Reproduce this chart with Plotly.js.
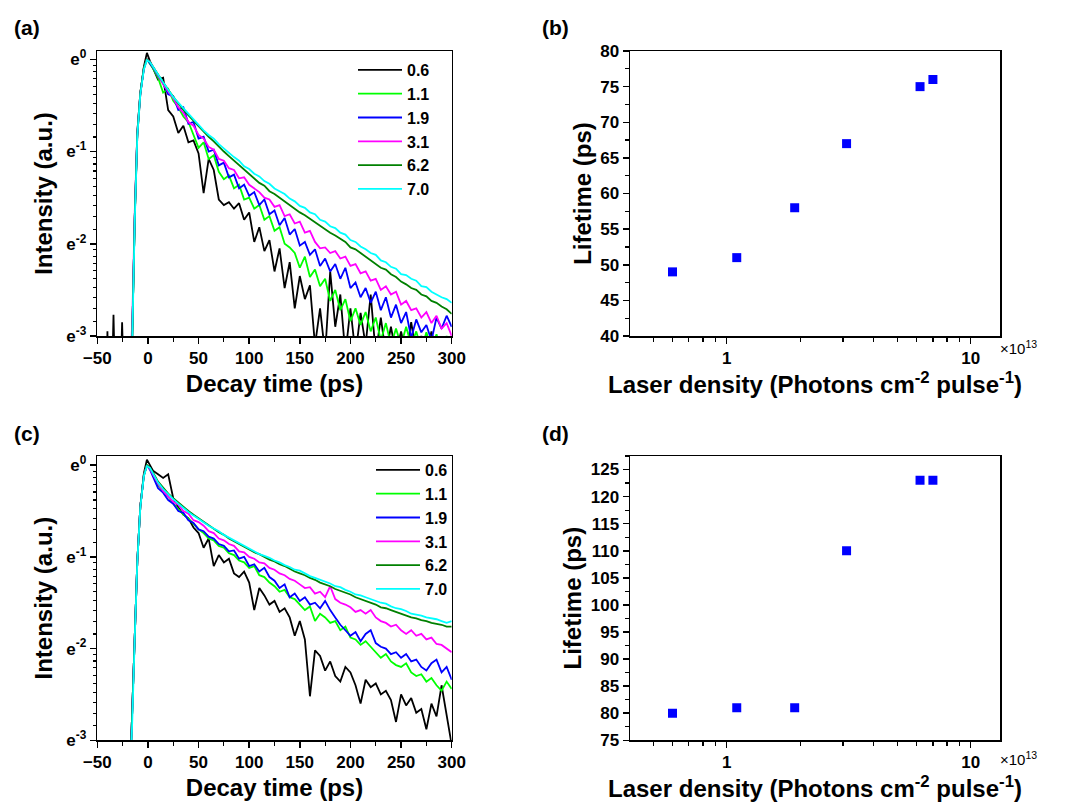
<!DOCTYPE html>
<html>
<head>
<meta charset="utf-8">
<script src="https://cdn.plot.ly/plotly-3.0.1.min.js"></script>
<style>html,body{margin:0;padding:0;background:#fff;}#chart{width:1066px;height:804px;}</style>
</head>
<body>
<div id="chart"></div>
<script>
// ---------- DATA ----------
// Legend labels (laser density, x10^13 photons cm^-2 pulse^-1)
const densityLabels = ["0.6", "1.1", "1.9", "3.1", "6.2", "7.0"];
const densities = [0.6, 1.1, 1.9, 3.1, 6.2, 7.0];

// Decay time samples (ps) shared by the decay curves
const decayTime = [-18, -15.5, -13, -10.5, -7.5, -4, -1, 2, 5,
  10, 15, 20, 25, 30, 35, 40, 45, 50, 55,
  60, 65, 70, 75, 80, 85, 90, 95, 100, 105,
  110, 115, 120, 125, 130, 135, 140, 145, 150, 155,
  160, 165, 170, 175, 180, 185, 190, 195, 200, 205,
  210, 215, 220, 225, 230, 235, 240, 245, 250, 255,
  260, 265, 270, 275, 280, 285, 290, 295, 300];

// Pre-pulse noise of the 0.6 curve in panel (a)
const preTimeA06 = [-45, -41, -40, -39, -35.5, -34, -32.5, -27, -25.5, -24, -20];
const preLnA06 = [-3.5, -3.5, -2.95, -3.5, -3.5, -2.77, -3.5, -3.5, -2.85, -3.5, -3.5];

// Panel (a): ln(intensity) (axis labelled e^n)
const lnA_06 = [-3.6, -3.0, -1.72, -0.83, -0.38, -0.08, 0.07, -0.02, -0.10,
  -0.22, -0.20, -0.55, -0.62, -0.80, -0.72, -0.90, -0.88, -1.02, -1.45,
  -1.08, -1.20, -1.52, -1.58, -1.55, -1.62, -1.56, -1.74, -1.66, -1.98,
  -1.82, -2.08, -1.96, -2.30, -2.05, -2.48, -2.20, -2.70, -2.35, -2.60,
  -2.45, -3.10, -2.70, -3.20, -2.30, -2.90, -2.55, -3.20, -2.70, -3.20,
  -2.75, -3.10, -2.55, -3.20, -2.80, -3.20, -2.90, -3.20, -2.95, -3.20,
  -2.85, -3.20, -3.00, -3.20, -2.95, -3.20, -3.10, -3.20, -3.20];
const lnA_11 = [-3.6, -3.0, -1.70, -0.80, -0.36, -0.10, 0.0, -0.05, -0.10,
  -0.20, -0.36, -0.32, -0.45, -0.52, -0.62, -0.68, -0.82, -0.96, -0.90,
  -1.08, -1.04, -1.22, -1.30, -1.26, -1.40, -1.36, -1.52, -1.50, -1.62,
  -1.58, -1.74, -1.70, -1.86, -1.82, -2.00, -2.04, -2.10, -2.26, -2.14,
  -2.36, -2.28, -2.46, -2.38, -2.62, -2.50, -2.72, -2.60, -2.84, -2.70,
  -2.88, -2.74, -2.95, -2.80, -3.05, -2.86, -3.10, -2.92, -3.10, -2.90,
  -3.10, -2.95, -3.15, -2.96, -3.15, -2.98, -3.20, -3.00, -3.20];
const lnA_19 = [-3.6, -3.0, -1.70, -0.81, -0.37, -0.10, 0.0, -0.04, -0.09,
  -0.18, -0.26, -0.38, -0.40, -0.55, -0.52, -0.70, -0.68, -0.86, -0.84,
  -1.00, -0.98, -1.15, -1.12, -1.28, -1.25, -1.40, -1.36, -1.48, -1.44,
  -1.58, -1.52, -1.68, -1.64, -1.80, -1.72, -1.90, -1.84, -2.02, -1.98,
  -2.12, -2.06, -2.24, -2.16, -2.30, -2.22, -2.38, -2.26, -2.48, -2.42,
  -2.58, -2.48, -2.64, -2.52, -2.72, -2.58, -2.80, -2.66, -2.86, -2.74,
  -3.02, -2.82, -2.96, -2.88, -3.05, -2.80, -2.92, -2.78, -2.90];
const lnA_31 = [-3.5, -2.85, -1.65, -0.79, -0.36, -0.10, 0.0, -0.03, -0.08,
  -0.18, -0.27, -0.35, -0.42, -0.52, -0.58, -0.68, -0.72, -0.82, -0.86,
  -0.95, -0.98, -1.08, -1.10, -1.18, -1.20, -1.29, -1.28, -1.36, -1.40,
  -1.44, -1.50, -1.52, -1.60, -1.58, -1.70, -1.68, -1.78, -1.76, -1.88,
  -1.86, -1.98, -2.05, -2.04, -2.10, -2.08, -2.16, -2.14, -2.24, -2.22,
  -2.32, -2.30, -2.40, -2.38, -2.50, -2.46, -2.55, -2.52, -2.66, -2.62,
  -2.72, -2.70, -2.80, -2.74, -2.86, -2.78, -2.92, -2.86, -3.00];
const lnA_62 = [-3.6, -3.0, -1.70, -0.80, -0.36, -0.09, 0.0, -0.03, -0.08,
  -0.17, -0.25, -0.33, -0.41, -0.48, -0.55, -0.61, -0.67, -0.73, -0.79,
  -0.84, -0.89, -0.95, -1.00, -1.05, -1.10, -1.15, -1.20, -1.25, -1.29,
  -1.34, -1.37, -1.43, -1.46, -1.50, -1.53, -1.58, -1.62, -1.66, -1.69,
  -1.73, -1.76, -1.81, -1.84, -1.88, -1.91, -1.95, -1.98, -2.04, -2.06,
  -2.10, -2.14, -2.18, -2.21, -2.26, -2.28, -2.33, -2.36, -2.41, -2.44,
  -2.48, -2.50, -2.55, -2.57, -2.62, -2.64, -2.68, -2.71, -2.76];
const lnA_70 = [-3.6, -3.05, -1.75, -0.83, -0.38, -0.11, -0.01, -0.03, -0.08,
  -0.17, -0.25, -0.33, -0.41, -0.47, -0.53, -0.60, -0.66, -0.71, -0.77,
  -0.82, -0.86, -0.92, -0.97, -1.01, -1.06, -1.10, -1.16, -1.19, -1.24,
  -1.27, -1.32, -1.35, -1.40, -1.43, -1.46, -1.51, -1.54, -1.59, -1.61,
  -1.66, -1.68, -1.74, -1.76, -1.81, -1.83, -1.88, -1.90, -1.96, -1.98,
  -2.03, -2.06, -2.10, -2.12, -2.18, -2.20, -2.25, -2.27, -2.33, -2.34,
  -2.38, -2.40, -2.46, -2.47, -2.52, -2.55, -2.58, -2.60, -2.64];

// Panel (c): ln(intensity)
const lnC_06 = [-3.5, -2.78, -1.86, -1.05, -0.45, -0.09, 0.06, 0.0, -0.06,
  -0.10, -0.14, -0.10, -0.36, -0.46, -0.54, -0.58, -0.68, -0.74, -0.90,
  -0.80, -1.10, -0.98, -1.06, -1.02, -1.18, -1.22, -1.16, -1.28, -1.58,
  -1.34, -1.42, -1.52, -1.48, -1.60, -1.56, -1.66, -1.86, -1.70, -1.90,
  -2.52, -2.02, -2.08, -2.24, -2.14, -2.30, -2.36, -2.20, -2.26, -2.40,
  -2.60, -2.34, -2.42, -2.38, -2.50, -2.46, -2.56, -2.80, -2.50, -2.62,
  -2.54, -2.70, -2.66, -2.88, -2.60, -2.74, -2.40, -2.70, -3.05];
const lnC_11 = [-3.5, -2.78, -1.86, -1.05, -0.45, -0.11, 0.0, -0.04, -0.09,
  -0.22, -0.28, -0.34, -0.42, -0.48, -0.54, -0.58, -0.64, -0.70, -0.74,
  -0.80, -0.82, -0.88, -0.90, -0.96, -0.98, -1.04, -1.06, -1.12, -1.10,
  -1.20, -1.22, -1.28, -1.32, -1.38, -1.36, -1.44, -1.46, -1.52, -1.58,
  -1.54, -1.70, -1.62, -1.66, -1.72, -1.70, -1.80, -1.76, -1.88, -1.90,
  -1.96, -1.92, -1.98, -2.04, -2.10, -2.06, -2.14, -2.18, -2.20, -2.16,
  -2.26, -2.30, -2.28, -2.36, -2.32, -2.40, -2.46, -2.36, -2.44];
const lnC_19 = [-3.5, -2.78, -1.86, -1.05, -0.45, -0.11, 0.0, -0.05, -0.12,
  -0.25, -0.30, -0.38, -0.42, -0.50, -0.52, -0.60, -0.63, -0.70, -0.72,
  -0.78, -0.80, -0.86, -0.88, -0.94, -0.93, -1.02, -1.00, -1.10, -1.08,
  -1.16, -1.12, -1.22, -1.26, -1.34, -1.30, -1.44, -1.40, -1.48, -1.44,
  -1.52, -1.50, -1.56, -1.48, -1.58, -1.66, -1.74, -1.80, -1.86, -1.82,
  -1.92, -1.84, -1.80, -1.94, -1.98, -2.00, -2.06, -2.04, -2.10, -2.06,
  -2.14, -2.12, -2.20, -2.24, -2.16, -2.12, -2.26, -2.20, -2.34];
const lnC_31 = [-3.5, -2.78, -1.86, -1.05, -0.45, -0.11, 0.0, -0.04, -0.10,
  -0.20, -0.28, -0.34, -0.40, -0.43, -0.50, -0.53, -0.60, -0.62, -0.66,
  -0.72, -0.74, -0.80, -0.82, -0.86, -0.88, -0.94, -0.95, -1.00, -1.02,
  -1.06, -1.07, -1.12, -1.14, -1.18, -1.20, -1.24, -1.26, -1.30, -1.34,
  -1.33, -1.40, -1.38, -1.44, -1.32, -1.46, -1.50, -1.52, -1.55, -1.60,
  -1.58, -1.62, -1.58, -1.66, -1.70, -1.72, -1.76, -1.74, -1.80, -1.84,
  -1.80, -1.86, -1.84, -1.90, -1.88, -1.95, -1.96, -2.00, -2.04];
const lnC_62 = [-3.5, -2.78, -1.86, -1.05, -0.45, -0.11, 0.0, -0.03, -0.08,
  -0.18, -0.25, -0.31, -0.36, -0.41, -0.45, -0.50, -0.54, -0.58, -0.62,
  -0.66, -0.69, -0.73, -0.76, -0.80, -0.83, -0.86, -0.89, -0.92, -0.95,
  -0.97, -1.00, -1.03, -1.05, -1.08, -1.10, -1.13, -1.16, -1.18, -1.20,
  -1.23, -1.25, -1.28, -1.30, -1.32, -1.35, -1.37, -1.39, -1.41, -1.44,
  -1.46, -1.48, -1.50, -1.52, -1.55, -1.56, -1.58, -1.60, -1.62, -1.64,
  -1.66, -1.67, -1.69, -1.70, -1.72, -1.73, -1.74, -1.76, -1.76];
const lnC_70 = [-3.5, -2.80, -1.88, -1.06, -0.46, -0.12, -0.01, -0.03, -0.09,
  -0.19, -0.26, -0.32, -0.37, -0.42, -0.47, -0.51, -0.55, -0.59, -0.62,
  -0.66, -0.69, -0.72, -0.76, -0.79, -0.82, -0.85, -0.88, -0.91, -0.94,
  -0.97, -0.99, -1.01, -1.04, -1.06, -1.09, -1.11, -1.14, -1.15, -1.18,
  -1.21, -1.23, -1.25, -1.27, -1.29, -1.32, -1.33, -1.36, -1.38, -1.41,
  -1.42, -1.44, -1.46, -1.48, -1.50, -1.51, -1.54, -1.56, -1.57, -1.59,
  -1.62, -1.63, -1.64, -1.66, -1.67, -1.68, -1.70, -1.72, -1.70];

// Panels (b) and (d): fitted lifetimes (ps) vs laser density (x10^13)
const lifetimeB = [49, 51, 58, 67, 75, 76];
const lifetimeD = [80, 81, 81, 110, 123, 123];

// ---------- STYLE ----------
const colors = ["#000000", "#00ff00", "#0000ff", "#ff00ff", "#008000", "#00ffff"];
const FONT = 'Arial, "Liberation Sans", sans-serif';
const tickFont = {family: FONT, size: 17, color: "#000", weight: "bold"};
const titleFont = {family: FONT, size: 24, color: "#000", weight: "bold"};

const seriesA = [lnA_06, lnA_11, lnA_19, lnA_31, lnA_62, lnA_70];
const seriesC = [lnC_06, lnC_11, lnC_19, lnC_31, lnC_62, lnC_70];

const traces = [];
seriesA.forEach((s, i) => {
  let x = decayTime, y = s;
  if (i === 0) { x = preTimeA06.concat(decayTime); y = preLnA06.concat(s); }
  traces.push({type: "scatter", mode: "lines", x: x, y: y, name: densityLabels[i],
    xaxis: "x", yaxis: "y", legend: "legend",
    line: {color: colors[i], width: 1.8}});
});
seriesC.forEach((s, i) => {
  traces.push({type: "scatter", mode: "lines", x: decayTime, y: s, name: densityLabels[i],
    xaxis: "x3", yaxis: "y3", legend: "legend2",
    line: {color: colors[i], width: 1.8}});
});
traces.push({type: "scatter", mode: "markers", x: densities, y: lifetimeB, xaxis: "x2", yaxis: "y2",
  showlegend: false, marker: {symbol: "square", size: 9, color: "#0000ff"}});
traces.push({type: "scatter", mode: "markers", x: densities, y: lifetimeD, xaxis: "x4", yaxis: "y4",
  showlegend: false, marker: {symbol: "square", size: 9, color: "#0000ff"}});

// minor tick positions on the e-based axis (linear subdivisions of each e-decade)
const eMinor = [];
for (let n = 0; n < 3; n++) {
  const lo = Math.exp(-(n + 1)), hi = Math.exp(-n);
  for (let j = 1; j < 10; j++) eMinor.push(Math.log(lo + j * (hi - lo) / 10));
}
const logMinor = [0.5, 0.6, 0.7, 0.8, 0.9, 2, 3, 4, 5, 6, 7, 8, 9];

const W = 1066, H = 804;
const px = v => v / W, py = v => 1 - v / H;

const minorStyle = {ticks: "outside", ticklen: 4, tickwidth: 1.2, tickcolor: "#000"};
const axBase = {showline: true, mirror: true, linecolor: "#000", linewidth: 1.5,
  ticks: "outside", ticklen: 6, tickwidth: 1.5, tickcolor: "#000",
  showgrid: false, zeroline: false, tickfont: tickFont, automargin: false};

function timeAxis(dom, anchor) {
  return Object.assign({}, axBase, {domain: dom, anchor: anchor, range: [-50, 300],
    tickmode: "linear", tick0: 0, dtick: 50,
    minor: Object.assign({tickmode: "linear", tick0: 25, dtick: 50}, minorStyle),
    title: {text: "Decay time (ps)", font: titleFont, standoff: 8}});
}
function intensityAxis(dom, anchor, top) {
  return Object.assign({}, axBase, {domain: dom, anchor: anchor, range: [-3, top],
    tickmode: "array", tickvals: [-3, -2, -1, 0],
    ticktext: ["e<sup>-3</sup>", "e<sup>-2</sup>", "e<sup>-1</sup>", "e<sup>0</sup>"],
    minor: Object.assign({tickmode: "array", tickvals: eMinor}, minorStyle, {ticklen: 3}),
    title: {text: "Intensity (a.u.)", font: titleFont, standoff: 7}});
}
function densityAxis(dom, anchor) {
  return Object.assign({}, axBase, {domain: dom, anchor: anchor, type: "log",
    range: [-0.396, 1.12], tickmode: "array", tickvals: [1, 10], ticktext: ["1", "10"],
    minor: Object.assign({tickmode: "array", tickvals: logMinor}, minorStyle),
    title: {text: "Laser density (Photons cm<sup>-2</sup> pulse<sup>-1</sup>)", font: titleFont, standoff: 8}});
}
function lifetimeAxis(dom, anchor, range, dtick) {
  return Object.assign({}, axBase, {domain: dom, anchor: anchor, range: range,
    tickmode: "linear", tick0: 0, dtick: dtick,
    minor: Object.assign({tickmode: "linear", tick0: dtick / 2, dtick: dtick}, minorStyle),
    title: {text: "Lifetime (ps)", font: titleFont, standoff: 2}});
}

const xLeft = [px(97.3), px(451.7)], xRight = [px(630), px(1000)];
const yTop = [py(336), py(51)], yBot = [py(740.3), py(456)];

const legendStyle = {bgcolor: "rgba(0,0,0,0)", borderwidth: 0, itemwidth: 44,
  font: {family: FONT, size: 16, color: "#000", weight: "bold"}, xanchor: "left", yanchor: "top",
  xref: "paper", yref: "paper", traceorder: "normal"};

const layout = {
  width: W, height: H, margin: {l: 0, r: 0, t: 0, b: 0},
  paper_bgcolor: "#fff", plot_bgcolor: "#fff", showlegend: true,
  xaxis: timeAxis(xLeft, "y"),
  yaxis: intensityAxis(yTop, "x", 0.09),
  xaxis2: densityAxis(xRight, "y2"),
  yaxis2: lifetimeAxis(yTop, "x2", [40, 80], 5),
  xaxis3: timeAxis(xLeft, "y3"),
  yaxis3: intensityAxis(yBot, "x3", 0.1),
  xaxis4: densityAxis(xRight, "y4"),
  yaxis4: lifetimeAxis(yBot, "x4", [75, 127.5], 5),
  legend: Object.assign({}, legendStyle, {x: px(353), y: py(53)}),
  legend2: Object.assign({}, legendStyle, {x: px(371), y: py(453)}),
  annotations: [
    {text: "(a)", x: px(12), y: py(28), xanchor: "left", yanchor: "middle"},
    {text: "(b)", x: px(540), y: py(28), xanchor: "left", yanchor: "middle"},
    {text: "(c)", x: px(12), y: py(433), xanchor: "left", yanchor: "middle"},
    {text: "(d)", x: px(540), y: py(433), xanchor: "left", yanchor: "middle"}
  ].map(a => Object.assign(a, {xref: "paper", yref: "paper", showarrow: false,
    font: {family: FONT, size: 21, color: "#000", weight: "bold"}})).concat([
    {text: "×10<sup>13</sup>", x: px(998), y: py(347), xanchor: "left", yanchor: "middle",
      xref: "paper", yref: "paper", showarrow: false, font: {family: FONT, size: 15, color: "#000"}},
    {text: "×10<sup>13</sup>", x: px(998), y: py(758), xanchor: "left", yanchor: "middle",
      xref: "paper", yref: "paper", showarrow: false, font: {family: FONT, size: 15, color: "#000"}}
  ])
};

Plotly.newPlot("chart", traces, layout, {displayModeBar: false, staticPlot: true});
</script>
</body>
</html>
